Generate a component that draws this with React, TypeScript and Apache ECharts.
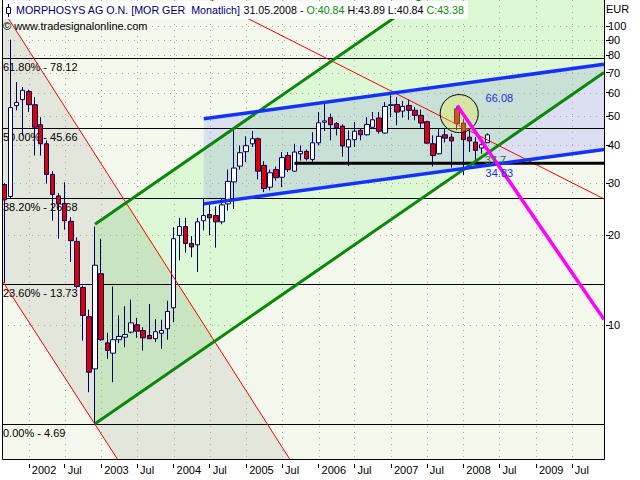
import { useEffect, useRef } from 'react';
import * as echarts from 'echarts';

const FONT = '"Liberation Sans", Arial, sans-serif';

// ---- candle data (monthly) ----
const months = [
  '2001-09','2001-10','2001-11','2001-12',
  '2002-01','2002-02','2002-03','2002-04','2002-05','2002-06','2002-07','2002-08','2002-09','2002-10','2002-11','2002-12',
  '2003-01','2003-02','2003-03','2003-04','2003-05','2003-06','2003-07','2003-08','2003-09','2003-10','2003-11','2003-12',
  '2004-01','2004-02','2004-03','2004-04','2004-05','2004-06','2004-07','2004-08','2004-09','2004-10','2004-11','2004-12',
  '2005-01','2005-02','2005-03','2005-04','2005-05','2005-06','2005-07','2005-08','2005-09','2005-10','2005-11','2005-12',
  '2006-01','2006-02','2006-03','2006-04','2006-05','2006-06','2006-07','2006-08','2006-09','2006-10','2006-11','2006-12',
  '2007-01','2007-02','2007-03','2007-04','2007-05','2007-06','2007-07','2007-08','2007-09','2007-10','2007-11','2007-12',
  '2008-01','2008-02','2008-03','2008-04','2008-05'
];
const openP = [
  29.6, 27.0, 54.3, 56.9,
  60.6, 54.7, 46.9, 40.5, 32.0, 27.1, 25.6, 22.3, 19.1, 13.4, 10.7, 7.16,
  14.9, 8.75, 8.08, 8.96, 9.14, 9.5, 10.05, 9.62, 9.26, 9.03, 9.42, 9.75,
  11.46, 20.0, 21.4, 18.8, 18.6, 22.4, 23.5, 23.3, 22.2, 25.5, 30.2, 34.1,
  38.1, 40.5, 42.1, 34.3, 29.0, 33.2, 31.3, 37.0, 32.8, 37.5, 38.2, 35.9,
  40.8, 47.8, 49.5, 47.3, 46.4, 39.5, 41.8, 44.9, 43.4, 46.0, 49.4, 44.0,
  54.4, 54.8, 52.1, 54.4, 52.4, 50.4, 48.0, 40.5, 37.5, 43.4, 42.6, 53.0,
  47.5, 42.6, 41.0, 39.2, 40.84
];
const closeP = [
  26.3, 53.5, 55.7, 61.1,
  54.7, 46.0, 40.5, 32.0, 27.4, 25.5, 22.4, 19.2, 13.5, 10.8, 6.98, 15.9,
  8.96, 8.25, 8.96, 9.19, 9.33, 10.2, 9.57, 9.09, 9.03, 9.53, 9.62, 11.14,
  19.5, 21.4, 18.8, 18.3, 22.2, 23.3, 22.9, 22.2, 25.3, 30.3, 33.6, 37.8,
  39.9, 42.1, 32.8, 28.7, 32.4, 31.2, 36.4, 33.2, 38.0, 38.2, 36.1, 40.8,
  47.6, 48.3, 46.9, 45.8, 39.8, 41.8, 44.6, 43.4, 47.0, 48.7, 44.6, 54.0,
  54.7, 51.7, 54.0, 52.4, 50.4, 47.5, 40.7, 37.0, 42.9, 42.3, 41.4, 47.3,
  41.8, 41.4, 38.5, 40.2, 43.38
];
const lowP = [
  13.9, 26.6, 52.4, 43.2,
  51.7, 37.0, 37.0, 29.8, 22.4, 19.5, 20.9, 16.3, 13.3, 8.9, 5.98, 4.69,
  8.9, 7.74, 6.46, 8.73, 8.46, 9.4, 9.09, 8.25, 9.0, 8.8, 8.35, 8.96,
  10.25, 16.5, 17.5, 16.9, 15.1, 20.8, 20.0, 18.2, 21.8, 24.2, 24.5, 33.2,
  35.2, 39.5, 30.8, 27.9, 28.3, 30.5, 29.0, 32.6, 32.6, 35.6, 35.6, 35.2,
  40.0, 44.7, 41.6, 43.2, 36.7, 34.1, 39.5, 41.6, 43.2, 45.5, 43.8, 43.8,
  49.7, 46.7, 49.5, 48.7, 48.5, 45.8, 40.5, 34.0, 37.3, 40.9, 33.7, 45.0,
  31.8, 38.0, 35.2, 37.5, 40.84
];
const highP = [
  29.9, 90.3, 65.1, 62.7,
  61.4, 58.0, 49.7, 41.6, 32.8, 27.7, 30.1, 23.0, 19.7, 13.6, 11.3, 21.4,
  19.5, 9.45, 13.5, 10.8, 11.6, 12.2, 10.6, 9.87, 11.8, 10.5, 10.45, 12.1,
  21.3, 22.9, 22.9, 19.9, 22.9, 26.7, 25.4, 25.0, 26.7, 33.2, 45.2, 40.0,
  42.9, 44.7, 42.5, 35.4, 33.2, 34.0, 38.0, 38.0, 40.5, 40.0, 38.7, 44.3,
  51.7, 55.1, 51.1, 47.9, 47.0, 44.9, 47.9, 45.7, 49.7, 51.7, 51.7, 55.8,
  58.8, 58.0, 56.3, 56.9, 53.7, 52.7, 48.3, 43.2, 45.5, 45.6, 43.8, 54.0,
  49.1, 45.5, 42.6, 41.6, 43.89
];

// ---- axes ----
const xTickDates = [
  '2002-01','2002-07','2003-01','2003-07','2004-01','2004-07','2005-01','2005-07',
  '2006-01','2006-07','2007-01','2007-07','2008-01','2008-07','2009-01','2009-07'
];
const yTickValues = [10, 20, 30, 40, 50, 60, 70, 80, 90, 100];
const xRange = ['2001-08-19', '2009-12-10'];
const yRange = [3.55, 122.5];

// ---- fibonacci retracement ----
const fibLabels = ['61.80%', '50.00%', '38.20%', '23.60%', '0.00%'];
const fibValues = [78.12, 45.66, 26.68, 13.73, 4.69];

// ---- drawn trend lines: two anchors [date, price] ----
const redUpper = [['2003-05-10', 25.5], ['2004-09-25', 7.64]];
const redLower = [['2001-08-19', 14.14], ['2003-03-27', 3.55]];
const redLong = [['2006-09-17', 66.0], ['2009-11-20', 26.9]];
const greenLower = [['2002-12-01', 4.69], ['2008-05-01', 37.7]];
const greenUpper = [['2002-12-01', 21.8], ['2008-05-01', 175.2]];
const blueUpper = [['2004-06-01', 49.1], ['2008-05-01', 66.08]];
const blueLower = [['2004-06-01', 25.5], ['2008-05-01', 34.3]];
const supportLine = [['2005-09-01', 34.83], ['2008-05-01', 34.83]];
const magentaLine = [['2007-12-01', 54.4], ['2009-02-05', 20.8]];
const circleCenter = ['2007-12-11', 51.1];
const valueTags = [
  { text: '66.08', at: ['2008-05-01', 66.08] },
  { text: '37.7', at: ['2008-05-01', 37.7] },
  { text: '34.83', at: ['2008-05-01', 34.83] },
];

const titleName = 'MORPHOSYS AG O.N. [MOR GER  Monatlich]';
const titleDate = '31.05.2008';

function ts(s: string): number {
  const p = s.split('-').map(Number);
  return new Date(p[0], p[1] - 1, p[2] || 1).getTime();
}

type Pt = number[];
function cross(a: Pt, b: Pt, c: Pt) {
  return (b[0] - a[0]) * (c[1] - a[1]) - (b[1] - a[1]) * (c[0] - a[0]);
}
function signedArea(poly: Pt[]) {
  let s = 0;
  for (let i = 0; i < poly.length; i++) {
    const a = poly[i], b = poly[(i + 1) % poly.length];
    s += a[0] * b[1] - b[0] * a[1];
  }
  return s;
}
function clipPolygon(subject: Pt[], clip: Pt[]): Pt[] {
  if (subject.length < 3 || clip.length < 3) return [];
  const sgn = signedArea(clip) > 0 ? 1 : -1;
  let out = subject;
  for (let i = 0; i < clip.length; i++) {
    const A = clip[i], B = clip[(i + 1) % clip.length];
    const inp = out;
    out = [];
    if (!inp.length) break;
    for (let j = 0; j < inp.length; j++) {
      const P = inp[j], Q = inp[(j + 1) % inp.length];
      const dp = sgn * cross(A, B, P), dq = sgn * cross(A, B, Q);
      const pin = dp >= 0, qin = dq >= 0;
      if (pin) out.push(P);
      if (pin !== qin) {
        const t = dp / (dp - dq);
        out.push([P[0] + (Q[0] - P[0]) * t, P[1] + (Q[1] - P[1]) * t]);
      }
    }
  }
  return out;
}
function clipSeg(p: Pt, q: Pt, x0: number, y0: number, x1: number, y1: number): Pt[] | null {
  let t0 = 0, t1 = 1;
  const dx = q[0] - p[0], dy = q[1] - p[1];
  const checks = [[-dx, p[0] - x0], [dx, x1 - p[0]], [-dy, p[1] - y0], [dy, y1 - p[1]]];
  for (const [pp, qq] of checks) {
    if (pp === 0) {
      if (qq < 0) return null;
    } else {
      const r = qq / pp;
      if (pp < 0) {
        if (r > t1) return null;
        if (r > t0) t0 = r;
      } else {
        if (r < t0) return null;
        if (r < t1) t1 = r;
      }
    }
  }
  return [[p[0] + t0 * dx, p[1] + t0 * dy], [p[0] + t1 * dx, p[1] + t1 * dy]];
}
function extend(a: Pt, b: Pt, back: number, fwd: number): Pt[] {
  const dx = b[0] - a[0], dy = b[1] - a[1];
  return [[a[0] - dx * back, a[1] - dy * back], [b[0] + dx * fwd, b[1] + dy * fwd]];
}

export default function App() {
  const ref = useRef<HTMLDivElement>(null);
  useEffect(() => {
    if (!ref.current) return;
    const chart = echarts.init(ref.current, undefined, { renderer: 'svg' });

    const candles = months.map((m, i) => [ts(m), openP[i], closeP[i], lowP[i], highP[i]]);
    const xTickTs = xTickDates.map(ts);
    const yTickLog = yTickValues.map((v) => Math.log10(v));
    const last = months.length - 1;

    const bgRender = (params: any, api: any) => {
      const cs = params.coordSys;
      const x0 = cs.x, y0 = cs.y, x1 = cs.x + cs.width, y1 = cs.y + cs.height;
      const rect: Pt[] = [[x0, y0], [x1, y0], [x1, y1], [x0, y1]];
      const P = (pt: any): Pt => api.coord([ts(pt[0]), pt[1]]);
      const children: any[] = [];
      const [r1a, r1b] = extend(P(redUpper[0]), P(redUpper[1]), 20, 20);
      const [r2a, r2b] = extend(P(redLower[0]), P(redLower[1]), 20, 20);
      const gray = clipPolygon([r1a, r1b, r2b, r2a], rect);
      const [g1a, g1b] = extend(P(greenLower[0]), P(greenLower[1]), 0, 20);
      const [g2a, g2b] = extend(P(greenUpper[0]), P(greenUpper[1]), 0, 20);
      const green = clipPolygon([g1a, g1b, g2b, g2a], rect);
      const [b1a, b1b] = extend(P(blueUpper[0]), P(blueUpper[1]), 0, 20);
      const [b2a, b2b] = extend(P(blueLower[0]), P(blueLower[1]), 0, 20);
      const blue = clipPolygon([b1a, b1b, b2b, b2a], rect);
      const grayGreen = clipPolygon(green, gray);
      const blueGreen = clipPolygon(blue, green);
      const poly = (pts: Pt[], fill: string) => {
        if (pts.length >= 3) children.push({ type: 'polygon', shape: { points: pts }, style: { fill } });
      };
      poly(gray, '#E3E6DB');
      poly(green, '#DCF8D4');
      poly(grayGreen, '#C9E4C1');
      poly(blue, '#DCDFF1');
      poly(blueGreen, '#C8E0D6');
      xTickTs.forEach((t) => {
        const x = Math.round(api.coord([t, yRange[0]])[0]) + 0.5;
        children.push({ type: 'line', shape: { x1: x, y1: y0, x2: x, y2: y1 }, style: { stroke: '#A8A8A8', lineWidth: 1, lineDash: [1, 5] } });
      });
      yTickValues.forEach((v) => {
        const y = Math.round(api.coord([ts(xRange[0]), v])[1]) + 0.5;
        children.push({ type: 'line', shape: { x1: x0, y1: y, x2: x1, y2: y }, style: { stroke: '#A8A8A8', lineWidth: 1, lineDash: [1, 5] } });
      });
      fibValues.forEach((v, i) => {
        const y = Math.round(api.coord([ts(xRange[0]), v])[1]) + 0.5;
        children.push({ type: 'line', shape: { x1: x0, y1: y, x2: x1, y2: y }, style: { stroke: '#000', lineWidth: 1 } });
        children.push({
          type: 'text', x: x0 + 1, y: y + 3,
          style: { text: `${fibLabels[i]} - ${v}`, fill: '#000', font: `11px ${FONT}`, align: 'left', verticalAlign: 'top', textAlign: 'left', textVerticalAlign: 'top' },
        });
      });
      return { type: 'group', children };
    };

    const overlayRender = (params: any, api: any) => {
      const cs = params.coordSys;
      const x0 = cs.x, y0 = cs.y, x1 = cs.x + cs.width, y1 = cs.y + cs.height;
      const P = (pt: any): Pt => api.coord([ts(pt[0]), pt[1]]);
      const children: any[] = [];
      const seg = (pts: Pt[], stroke: string, lineWidth: number) => {
        const c = clipSeg(pts[0], pts[1], x0, y0, x1, y1);
        if (c) children.push({ type: 'line', shape: { x1: c[0][0], y1: c[0][1], x2: c[1][0], y2: c[1][1] }, style: { stroke, lineWidth } });
      };
      seg(extend(P(redUpper[0]), P(redUpper[1]), 20, 20), '#FF0000', 1);
      seg(extend(P(redLower[0]), P(redLower[1]), 20, 20), '#FF0000', 1);
      seg(extend(P(redLong[0]), P(redLong[1]), 20, 20), '#FF0000', 1);
      seg(extend(P(supportLine[0]), P(supportLine[1]), 0, 20), '#000000', 3);
      seg(extend(P(greenLower[0]), P(greenLower[1]), 0, 20), '#0A870A', 3);
      seg(extend(P(greenUpper[0]), P(greenUpper[1]), 0, 20), '#0A870A', 3);
      seg(extend(P(blueUpper[0]), P(blueUpper[1]), 0, 20), '#1432FF', 3.5);
      seg(extend(P(blueLower[0]), P(blueLower[1]), 0, 20), '#1432FF', 3.5);
      const c = P(circleCenter);
      children.push({ type: 'circle', shape: { cx: c[0], cy: c[1], r: 19 }, style: { fill: 'rgba(238,238,60,0.32)', stroke: '#000', lineWidth: 1 } });
      seg(extend(P(magentaLine[0]), P(magentaLine[1]), 0, 20), '#FF00FF', 3.5);
      const tagColors = ['#1432E6', '#0A870A', '#1432E6'];
      const tagOffsets = [[12, 18], [8, 7], [12, 10]];
      valueTags.forEach((t, i) => {
        const p = P(t.at);
        children.push({
          type: 'text', x: p[0] + tagOffsets[i][0], y: p[1] + tagOffsets[i][1],
          style: { text: t.text, fill: tagColors[i], font: `11px ${FONT}`, align: 'center', verticalAlign: 'middle', textAlign: 'center', textVerticalAlign: 'middle' },
        });
      });
      children.push({ type: 'rect', shape: { x: x0 + 0.5, y: y0 - 1, width: cs.width, height: cs.height + 0.5 }, style: { fill: 'none', stroke: '#000', lineWidth: 1 } });
      return { type: 'group', children };
    };

    const anchor = [[ts(xRange[0]), yRange[0]]];
    const titleFont = `10.7px ${FONT}`;

    const option: any = {
      animation: false,
      grid: {
        left: 2, top: 0, width: 602, height: 460,
        show: true, backgroundColor: '#F4F8EC', borderWidth: 0,
        containLabel: false, outerBoundsMode: 'none',
      },
      xAxis: {
        type: 'value', min: ts(xRange[0]), max: ts(xRange[1]), offset: 4,
        axisLine: { show: false },
        axisTick: { show: true, customValues: xTickTs, length: 4, lineStyle: { color: '#000', width: 1 } },
        axisLabel: {
          customValues: xTickTs, margin: 0, align: 'left', padding: [0, 0, 0, 3],
          color: '#000', fontSize: 11, fontFamily: FONT,
          formatter: (v: number) => {
            const d = new Date(v);
            return d.getMonth() === 0 ? String(d.getFullYear()) : 'Jul';
          },
        },
        splitLine: { show: false },
      },
      yAxis: [
        { type: 'log', logBase: 10, min: yRange[0], max: yRange[1], show: false },
        {
          type: 'value', position: 'right', min: Math.log10(yRange[0]), max: Math.log10(yRange[1]), offset: 2,
          axisLine: { show: false },
          axisTick: { show: true, customValues: yTickLog, length: 4, lineStyle: { color: '#000' } },
          axisLabel: {
            customValues: yTickLog, margin: 2, color: '#000', fontSize: 11, fontFamily: FONT,
            formatter: (v: number) => String(Math.round(Math.pow(10, v))),
          },
          splitLine: { show: false },
        },
      ],
      series: [
        { type: 'custom', name: 'bg', xAxisIndex: 0, yAxisIndex: 0, z: 1, silent: true, renderItem: bgRender, data: anchor },
        {
          type: 'candlestick', name: 'MOR', xAxisIndex: 0, yAxisIndex: 0, z: 3, barWidth: 5, data: candles,
          itemStyle: { color: '#FFFFFF', color0: '#E00000', borderColor: '#000060', borderColor0: '#000060', borderWidth: 1 },
        },
        { type: 'custom', name: 'overlay', xAxisIndex: 0, yAxisIndex: 0, z: 5, silent: true, renderItem: overlayRender, data: anchor },
      ],
      graphic: [
        { type: 'rect', shape: { x: 3, y: 1, width: 465, height: 18 }, style: { fill: '#FFFFFF' }, z: 100 },
        { type: 'line', shape: { x1: 8.5, y1: 4, x2: 8.5, y2: 17 }, style: { stroke: '#000080', lineWidth: 1 }, z: 101 },
        { type: 'rect', shape: { x: 6.5, y: 7.5, width: 4, height: 6 }, style: { fill: '#FFFFFF', stroke: '#000080', lineWidth: 1 }, z: 102 },
        {
          type: 'text', x: 16, y: 10, z: 101,
          style: {
            text: `{n|${titleName}}{k| ${titleDate} - }{g|O:${openP[last]}}{k| H:${highP[last]} L:${lowP[last]} }{g|C:${closeP[last]}}`,
            rich: {
              n: { fill: '#000070', font: titleFont },
              k: { fill: '#000000', font: titleFont },
              g: { fill: '#009000', font: titleFont },
            },
            font: titleFont, verticalAlign: 'middle', textVerticalAlign: 'middle',
          },
        },
        {
          type: 'text', x: 3, y: 26, z: 101,
          style: { text: '© www.tradesignalonline.com', fill: '#000', font: `11px ${FONT}`, verticalAlign: 'middle', textVerticalAlign: 'middle' },
        },
        {
          type: 'text', x: 606, y: 9, z: 101,
          style: { text: 'EUR', fill: '#000', font: `11px ${FONT}`, verticalAlign: 'middle', textVerticalAlign: 'middle' },
        },
      ],
    };
    chart.setOption(option);
    return () => chart.dispose();
  }, []);
  return <div ref={ref} style={{ position: 'absolute', left: 0, top: 0, width: 640, height: 480, background: '#FFFFFF' }} />;
}
